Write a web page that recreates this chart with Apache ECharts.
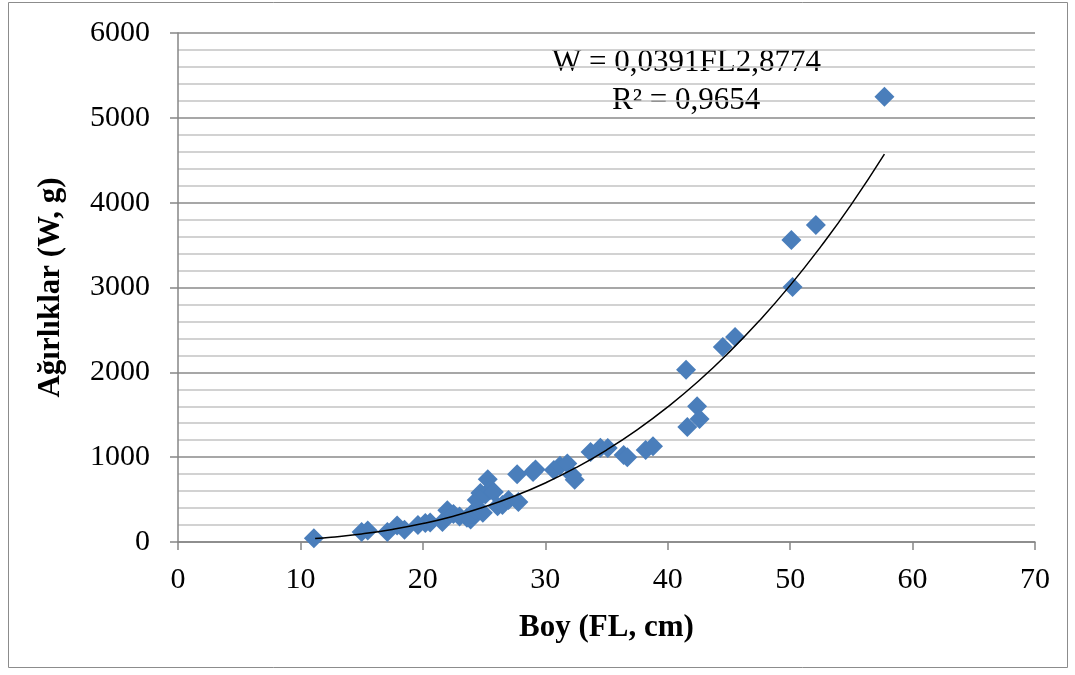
<!DOCTYPE html>
<html>
<head>
<meta charset="utf-8">
<script src="https://cdn.jsdelivr.net/npm/echarts@6/dist/echarts.min.js"></script>
<style>
  html, body { margin: 0; padding: 0; background: #fff; }
  #chart { width: 1075px; height: 675px; }
</style>
</head>
<body>
<div id="chart"></div>
<script>
// olculen baliklar: boy (FL, cm) ve agirlik (W, g)
var boyFL = [11.1, 15.0, 15.5, 17.1, 17.9, 18.5, 19.6, 20.2, 20.6, 21.6, 22.0, 22.5,
    23.0, 23.6, 23.9, 24.3, 24.4, 24.7, 24.9, 25.1, 25.3, 25.5, 25.8, 26.1, 26.5,
    27.0, 27.7, 27.8, 29.0, 29.2, 30.7, 31.2, 31.8, 32.2, 32.4, 33.7, 34.5, 35.1,
    36.4, 36.7, 38.2, 38.8, 41.5, 41.6, 42.4, 42.6, 44.5, 45.5, 50.1, 50.2, 52.1, 57.7];
var agirlikW = [45, 118, 135, 118, 195, 145, 200, 225, 230, 236, 375, 330,
    300, 285, 265, 380, 495, 578, 345, 560, 740, 613, 590, 420, 436,
    495, 800, 472, 825, 855, 849, 900, 925, 790, 735, 1061, 1110, 1108,
    1026, 1000, 1085, 1130, 2030, 1356, 1600, 1450, 2300, 2417, 3561, 3007, 3738, 5248];

// trend cizgisinden okunan noktalar
var trendFL = [11.2, 12.5, 15, 17.5, 20, 22.5, 25, 27.5, 30, 32.5, 35, 37.5,
    40, 42.5, 45, 47.5, 50, 52.5, 55, 57.7];
var trendW = [41, 56, 95, 148, 217, 304, 412, 542, 696, 876, 1084, 1322,
    1592, 1895, 2235, 2611, 3025, 3482, 3980, 4572];

var denklem = 'W = 0,0391FL2,8774';
var r2Metin = 'R² = 0,9654';

var fontAile = '"Liberation Serif", "Times New Roman", serif';

var chart = echarts.init(document.getElementById('chart'), null, { renderer: 'canvas' });

var noktalar = boyFL.map(function (x, i) { return [x, agirlikW[i]]; });
var trend = trendFL.map(function (x, i) { return [x, trendW[i]]; });

var option = {
    backgroundColor: '#fff',
    animation: false,
    grid: { left: 178, top: 33, right: 40, bottom: 133 },
    graphic: [
        {
            type: 'rect',
            shape: { x: 8.5, y: 2.5, width: 1059, height: 665 },
            style: { fill: 'none', stroke: '#8c8c8c', lineWidth: 1 },
            silent: true
        },
        {
            type: 'text',
            left: 552, top: 47,
            style: { text: denklem, font: '31px ' + fontAile, fill: '#000' }
        },
        {
            type: 'text',
            left: 612, top: 85,
            style: { text: r2Metin, font: '31px ' + fontAile, fill: '#000' }
        }
    ],
    xAxis: {
        type: 'value',
        min: 0, max: 70, interval: 10,
        name: 'Boy (FL, cm)',
        nameLocation: 'middle',
        nameGap: 70,
        nameTextStyle: { fontFamily: fontAile, fontSize: 31, fontWeight: 'bold', color: '#000' },
        axisLine: { show: true, onZero: false, lineStyle: { color: '#868686', width: 1.5 } },
        axisTick: { show: true, length: 8, inside: false, lineStyle: { color: '#868686', width: 1.5 } },
        axisLabel: {
            fontFamily: fontAile, fontSize: 30, color: '#000', margin: 23,
            formatter: function (v) { return String(v); }
        },
        splitLine: { show: false }
    },
    yAxis: {
        type: 'value',
        min: 0, max: 6000, interval: 1000,
        name: 'Ağırlıklar (W, g)',
        nameLocation: 'middle',
        nameRotate: 90,
        nameGap: 112,
        nameTextStyle: { fontFamily: fontAile, fontSize: 31, fontWeight: 'bold', color: '#000' },
        axisLine: { show: true, lineStyle: { color: '#868686', width: 1.5 } },
        axisTick: { show: true, length: 8, lineStyle: { color: '#868686', width: 1.5 } },
        axisLabel: {
            fontFamily: fontAile, fontSize: 30, color: '#000', margin: 28,
            formatter: function (v) { return String(v); }
        },
        splitLine: { show: true, lineStyle: { color: '#8a8a8a', width: 1.5 } },
        minorTick: { show: false, splitNumber: 5 },
        minorSplitLine: { show: true, lineStyle: { color: '#c4c4c4', width: 1.5 } }
    },
    series: [
        {
            name: 'Ağırlık',
            type: 'scatter',
            data: noktalar,
            symbol: 'diamond',
            symbolSize: 20,
            itemStyle: { color: '#4A7EBB', opacity: 1 },
            z: 2
        },
        {
            name: 'Trend',
            type: 'line',
            data: trend,
            smooth: true,
            showSymbol: false,
            lineStyle: { color: '#000', width: 1.5 },
            z: 3
        }
    ]
};

chart.setOption(option);
</script>
</body>
</html>
